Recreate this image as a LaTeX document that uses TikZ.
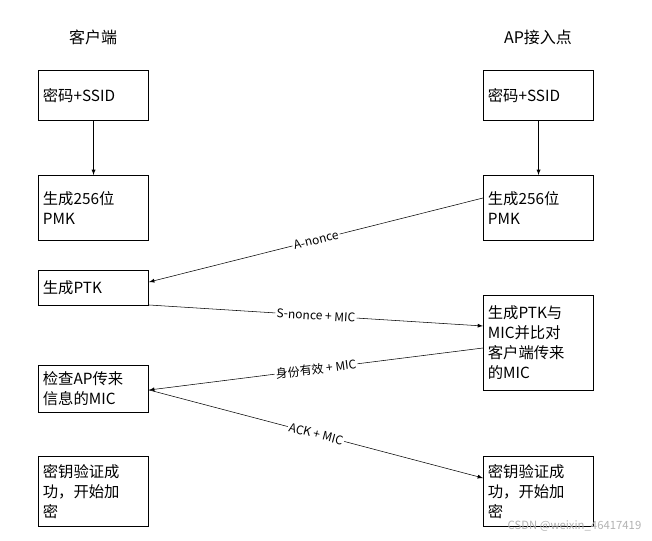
\documentclass[tikz,border=0pt]{standalone}
\usepackage{fontspec}
\setmainfont{Liberation Serif}
\newfontfamily\cjk{Noto Sans CJK SC}
\usetikzlibrary{positioning}
\tikzset{
  stage/.style={draw,thick,anchor=north west,minimum width=82.5pt,text width=76pt,
    align=left,inner sep=3pt,font=\cjk\fontsize{11.5}{15}\selectfont},
  msg/.style={font=\cjk\fontsize{9}{10}\selectfont,sloped,fill=white,inner sep=1pt}
}
\begin{document}
\begin{tikzpicture}[x=0.75pt,y=-0.75pt,>=latex]
  \useasboundingbox (0,0) rectangle (652,541);

  % column titles
  \node[font=\cjk\fontsize{12}{14}\selectfont] (tc) at (93,37) {客户端};
  \node[font=\cjk\fontsize{12}{14}\selectfont] (ta) at (538,37) {AP接入点};

  % client side
  \node[stage,minimum height=37.5pt] (c1) at (38,70) {密码+SSID};
  \node[stage,minimum height=48.75pt] (c2) at (38,175) {生成256位\\PMK};
  \node[stage,minimum height=26.25pt] (c3) at (38,270) {生成PTK};
  \node[stage,minimum height=35.25pt] (c4) at (38,365) {检查AP传来\\信息的MIC};
  \node[stage,minimum height=52.5pt] (c5) at (38,456) {密钥验证成\\功，开始加\\密};

  % AP side
  \node[stage,minimum height=37.5pt] (a1) at (483,70) {密码+SSID};
  \node[stage,minimum height=48.75pt] (a2) at (483,175) {生成256位\\PMK};
  \node[stage,minimum height=71.25pt] (a3) at (483,295) {生成PTK与\\MIC并比对\\客户端传来\\的MIC};
  \node[stage,minimum height=52.5pt] (a4) at (483,456) {密钥验证成\\功，开始加\\密};

  % arrows
  \draw[->] (c1) -- (c2);
  \draw[->] (a1) -- (a2);
  \draw[->] (a2.west|-0,198) -- node[msg] {A-nonce} (c3.east|-0,282);
  \draw[->] (c3.east|-0,305) -- node[msg] {S-nonce + MIC} (a3.west|-0,326);
  \draw[->] (a3.west|-0,348) -- node[msg] {身份有效 + MIC} (c4.east|-0,390);
  \draw[->] (c4.east|-0,390) -- node[msg] {ACK + MIC} (a4.west|-0,478);

  % watermark
  \node[font=\cjk\fontsize{8.5}{10}\selectfont,text=gray!60,anchor=south east] (wm) at (646,536) {CSDN @weixin\_46417419};
\end{tikzpicture}
\end{document}
